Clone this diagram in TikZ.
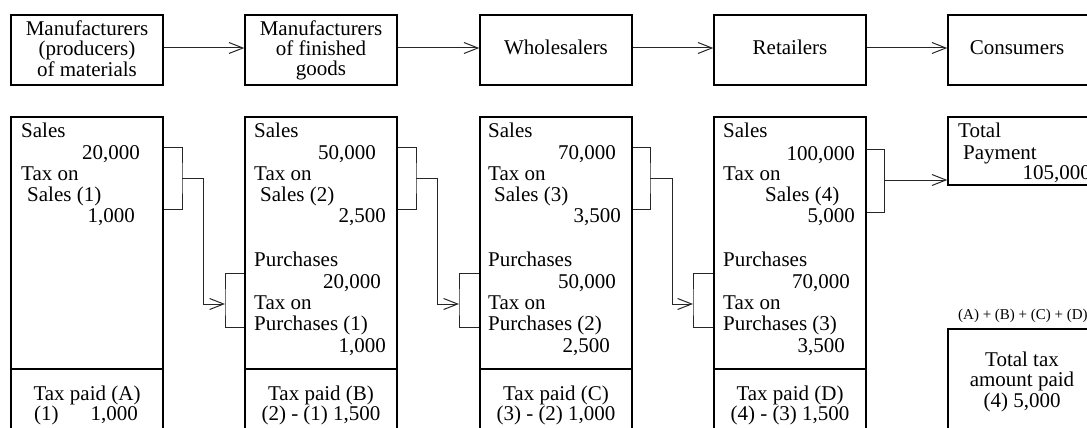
\documentclass[tikz,border=0pt]{standalone}
\usepackage{fontspec}
\setmainfont{Liberation Serif}
\usetikzlibrary{arrows.meta}
\tikzset{
  box/.style={draw=black, line width=1.4pt, inner sep=0pt, rectangle},
  txt/.style={inner sep=0pt, font=\fontsize{21}{20.5}\selectfont},
  smalltxt/.style={inner sep=0pt, font=\fontsize{15}{15}\selectfont},
  conn/.style={draw=black!85, line width=1pt},
  arr/.style={conn, -{Straight Barb[length=14pt,width=11pt]}},
}
\begin{document}
\begin{tikzpicture}[x=1pt,y=-1pt]
\useasboundingbox (0,0) rectangle (1087,428);
\clip (0,0) rectangle (1087,428);

% ---------- top row ----------
\node[box,minimum width=152pt,minimum height=70pt] (T1) at (87,50) {};
\node[box,minimum width=152pt,minimum height=70pt] (T2) at (321,50) {};
\node[box,minimum width=152pt,minimum height=70pt] (T3) at (556,50) {};
\node[box,minimum width=152pt,minimum height=70pt] (T4) at (790,50) {};
\node[box,minimum width=142pt,minimum height=70pt] (T5) at (1019,50) {};

\node[txt,anchor=base] (t1a) at (87,36) {Manufacturers};
\node[txt,anchor=base] (t1b) at (87,56) {(producers)};
\node[txt,anchor=base] (t1c) at (87,77) {of materials};
\node[txt,anchor=base] (t2a) at (321,36) {Manufacturers};
\node[txt,anchor=base] (t2b) at (321,56) {of finished};
\node[txt,anchor=base] (t2c) at (321,76) {goods};
\node[txt,anchor=base] (t3a) at (556,55) {Wholesalers};
\node[txt,anchor=base] (t4a) at (790,55) {Retailers};
\node[txt,anchor=base] (t5a) at (1017,55) {Consumers};

\draw[arr] ([yshift=2pt]T1.east) -- ([yshift=2pt]T2.west);
\draw[arr] ([yshift=2pt]T2.east) -- ([yshift=2pt]T3.west);
\draw[arr] ([yshift=2pt]T3.east) -- ([yshift=2pt]T4.west);
\draw[arr] ([yshift=2pt]T4.east) -- ([yshift=2pt]T5.west);

% ---------- lower boxes ----------
\node[box,minimum width=152pt,minimum height=252pt] (U1) at (87,243) {};
\node[box,minimum width=152pt,minimum height=80pt] (L1) at (87,409) {};
\node[box,minimum width=152pt,minimum height=252pt] (U2) at (321,243) {};
\node[box,minimum width=152pt,minimum height=80pt] (L2) at (321,409) {};
\node[box,minimum width=152pt,minimum height=252pt] (U3) at (556,243) {};
\node[box,minimum width=152pt,minimum height=80pt] (L3) at (556,409) {};
\node[box,minimum width=152pt,minimum height=252pt] (U4) at (790,243) {};
\node[box,minimum width=152pt,minimum height=80pt] (L4) at (790,409) {};
\node[box,minimum width=142pt,minimum height=68pt] (TP) at (1019,151) {};
\node[box,minimum width=142pt,minimum height=121pt] (TT) at (1019,389.5) {};

% box 1
\node[txt,anchor=base west] (s1a) at (21,137) {Sales};
\node[txt,anchor=base east] (s1b) at (140,159) {20,000};
\node[txt,anchor=base west] (s1c) at (21,180) {Tax on};
\node[txt,anchor=base west] (s1d) at (27,201) {Sales (1)};
\node[txt,anchor=base east] (s1e) at (135,222) {1,000};
\node[txt,anchor=base] (p1a) at (87,400) {Tax paid (A)};
\node[txt,anchor=base] (p1b) at (86,420) {(1)\hspace{32pt}1,000};

% box 2
\node[txt,anchor=base west] (s2a) at (254,137) {Sales};
\node[txt,anchor=base east] (s2b) at (376,159) {50,000};
\node[txt,anchor=base west] (s2c) at (254,180) {Tax on};
\node[txt,anchor=base west] (s2d) at (260,201) {Sales (2)};
\node[txt,anchor=base east] (s2e) at (386,222) {2,500};
\node[txt,anchor=base west] (q2a) at (254,266) {Purchases};
\node[txt,anchor=base east] (q2b) at (381,288) {20,000};
\node[txt,anchor=base west] (q2c) at (254,309) {Tax on};
\node[txt,anchor=base west] (q2d) at (254,330) {Purchases (1)};
\node[txt,anchor=base east] (q2e) at (386,352) {1,000};
\node[txt,anchor=base] (p2a) at (321,400) {Tax paid (B)};
\node[txt,anchor=base] (p2b) at (321,420) {(2) - (1) 1,500};

% box 3
\node[txt,anchor=base west] (s3a) at (488,137) {Sales};
\node[txt,anchor=base east] (s3b) at (616,159) {70,000};
\node[txt,anchor=base west] (s3c) at (488,180) {Tax on};
\node[txt,anchor=base west] (s3d) at (494,201) {Sales (3)};
\node[txt,anchor=base east] (s3e) at (621,222) {3,500};
\node[txt,anchor=base west] (q3a) at (488,266) {Purchases};
\node[txt,anchor=base east] (q3b) at (616,288) {50,000};
\node[txt,anchor=base west] (q3c) at (488,309) {Tax on};
\node[txt,anchor=base west] (q3d) at (488,330) {Purchases (2)};
\node[txt,anchor=base east] (q3e) at (610,352) {2,500};
\node[txt,anchor=base] (p3a) at (556,400) {Tax paid (C)};
\node[txt,anchor=base] (p3b) at (556,420) {(3) - (2) 1,000};

% box 4
\node[txt,anchor=base west] (s4a) at (723,137) {Sales};
\node[txt,anchor=base east] (s4b) at (855,160) {100,000};
\node[txt,anchor=base west] (s4c) at (723,180) {Tax on};
\node[txt,anchor=base west] (s4d) at (765,201) {Sales (4)};
\node[txt,anchor=base east] (s4e) at (855,222) {5,000};
\node[txt,anchor=base west] (q4a) at (723,266) {Purchases};
\node[txt,anchor=base east] (q4b) at (850,288) {70,000};
\node[txt,anchor=base west] (q4c) at (723,309) {Tax on};
\node[txt,anchor=base west] (q4d) at (723,330) {Purchases (3)};
\node[txt,anchor=base east] (q4e) at (845,352) {3,500};
\node[txt,anchor=base] (p4a) at (790,400) {Tax paid (D)};
\node[txt,anchor=base] (p4b) at (790,420) {(4) - (3) 1,500};

% total payment
\node[txt,anchor=base west] (tpa) at (958,137) {Total};
\node[txt,anchor=base west] (tpb) at (963,159) {Payment};
\node[txt,anchor=base east] (tpc) at (1091,179) {105,000};

% total tax
\node[smalltxt,anchor=base west] (tsum) at (958,319) {(A) + (B) + (C) + (D)};
\node[txt,anchor=base] (tta) at (1022,366) {Total tax};
\node[txt,anchor=base] (ttb) at (1022,386) {amount paid};
\node[txt,anchor=base] (ttc) at (1022,407) {(4) 5,000};

% ---------- connectors ----------
% 1 -> 2
\coordinate (m1) at (182,178);
\coordinate (k2) at (225,304);
\draw[conn] (U1.east |- 0,147) -| (m1) |- (U1.east |- 0,209);
\draw[arr] (m1) -- (203,178) |- (k2);
\draw[conn] (U2.west |- 0,273) -| (k2) |- (U2.west |- 0,327);
% 2 -> 3
\coordinate (m2) at (416,178);
\coordinate (k3) at (459,304);
\draw[conn] (U2.east |- 0,147) -| (m2) |- (U2.east |- 0,209);
\draw[arr] (m2) -- (437,178) |- (k3);
\draw[conn] (U3.west |- 0,273) -| (k3) |- (U3.west |- 0,327);
% 3 -> 4
\coordinate (m3) at (650,178);
\coordinate (k4) at (693,304);
\draw[conn] (U3.east |- 0,147) -| (m3) |- (U3.east |- 0,209);
\draw[arr] (m3) -- (672,178) |- (k4);
\draw[conn] (U4.west |- 0,273) -| (k4) |- (U4.west |- 0,327);
% 4 -> total payment
\coordinate (m4) at (884,180);
\draw[conn] (U4.east |- 0,149) -| (m4) |- (U4.east |- 0,212);
\draw[arr] (m4) -- (TP.west |- m4);
\end{tikzpicture}
\end{document}
